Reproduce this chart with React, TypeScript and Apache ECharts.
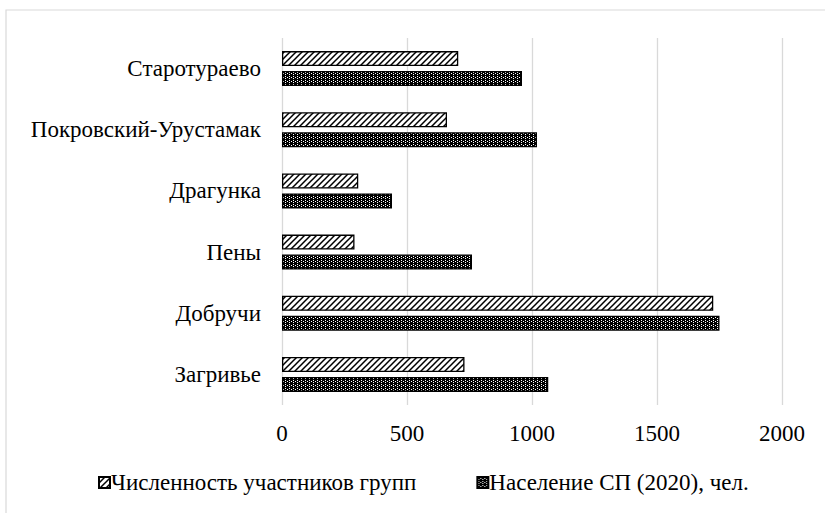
import React, { useEffect, useRef } from "react";
import * as echarts from "echarts";

// Settlements, listed from the top row down
const settlements = [
  "Старотураево",
  "Покровский-Урустамак",
  "Драгунка",
  "Пены",
  "Добручи",
  "Загривье",
];

const groupMembers = [705, 660, 305, 290, 1725, 730];
const population2020 = [960, 1020, 440, 760, 1750, 1065];

const seriesNames = ["Численность участников групп", "Население СП (2020), чел."];
const xTicks = { min: 0, max: 2000, interval: 500 };

const FONT = "Liberation Serif";
const FONT_SIZE = 23;

function hatchTile(): HTMLCanvasElement {
  const c = document.createElement("canvas");
  c.width = 6;
  c.height = 6;
  const g = c.getContext("2d")!;
  g.fillStyle = "#ffffff";
  g.fillRect(0, 0, 6, 6);
  g.strokeStyle = "#000000";
  g.lineWidth = 1.5;
  g.beginPath();
  g.moveTo(-2, 2);
  g.lineTo(2, -2);
  g.moveTo(-1, 7);
  g.lineTo(7, -1);
  g.moveTo(4, 8);
  g.lineTo(8, 4);
  g.stroke();
  return c;
}

function dotTile(): HTMLCanvasElement {
  const c = document.createElement("canvas");
  c.width = 4;
  c.height = 4;
  const g = c.getContext("2d")!;
  g.fillStyle = "#000000";
  g.fillRect(0, 0, 4, 4);
  g.fillStyle = "#ffffff";
  g.fillRect(1, 0, 1, 1);
  g.fillRect(1, 2, 1, 1);
  g.fillRect(3, 1, 1, 1);
  return c;
}

export default function App() {
  const ref = useRef<HTMLDivElement>(null);

  useEffect(() => {
    if (!ref.current) return;
    const chart = echarts.init(ref.current, null, { renderer: "svg" });
    const hatch = hatchTile();
    const dots = dotTile();

    chart.setOption({
      animation: false,
      backgroundColor: "#ffffff",
      textStyle: { fontFamily: FONT, color: "#000" },
      graphic: [
        {
          type: "rect",
          shape: { x: 6, y: 10, width: 840, height: 520 },
          style: { fill: "none", stroke: "#d9d9d9", lineWidth: 1.2 },
          silent: true,
        },
      ],
      grid: { left: 282, right: 43, top: 38, bottom: 108 },
      legend: {
        left: 98,
        top: 471,
        padding: 0,
        icon: "rect",
        itemWidth: 11,
        itemHeight: 11,
        itemGap: 60,
        data: seriesNames,
        textStyle: { fontFamily: FONT, fontSize: FONT_SIZE, color: "#000", padding: [0, 0, 0, -4] },
      },
      xAxis: {
        type: "value",
        min: xTicks.min,
        max: xTicks.max,
        interval: xTicks.interval,
        axisLine: { show: false },
        axisTick: { show: false },
        axisLabel: {
          fontFamily: FONT,
          fontSize: FONT_SIZE,
          color: "#000",
          margin: 17,
          formatter: (v: number) => String(v),
        },
        splitLine: { show: true, lineStyle: { color: "#d9d9d9", width: 1.3 } },
      },
      yAxis: {
        type: "category",
        inverse: true,
        data: settlements,
        axisLine: { show: false },
        axisTick: { show: false },
        axisLabel: { fontFamily: FONT, fontSize: FONT_SIZE, color: "#000", margin: 21 },
      },
      series: [
        {
          name: seriesNames[0],
          type: "bar",
          data: groupMembers,
          barWidth: 15,
          barGap: "33%",
          itemStyle: {
            color: { image: hatch, repeat: "repeat", imageWidth: 6, imageHeight: 6 },
            borderColor: "#000",
            borderWidth: 1.3,
          },
        },
        {
          name: seriesNames[1],
          type: "bar",
          data: population2020,
          barWidth: 15,
          barGap: "33%",
          itemStyle: {
            color: { image: dots, repeat: "repeat", imageWidth: 4, imageHeight: 4 },
            borderColor: "#000",
            borderWidth: 1.3,
          },
        },
      ],
    });

    return () => chart.dispose();
  }, []);

  return (
    <div
      ref={ref}
      style={{ position: "fixed", left: 0, top: 0, width: 825, height: 513 }}
    />
  );
}
